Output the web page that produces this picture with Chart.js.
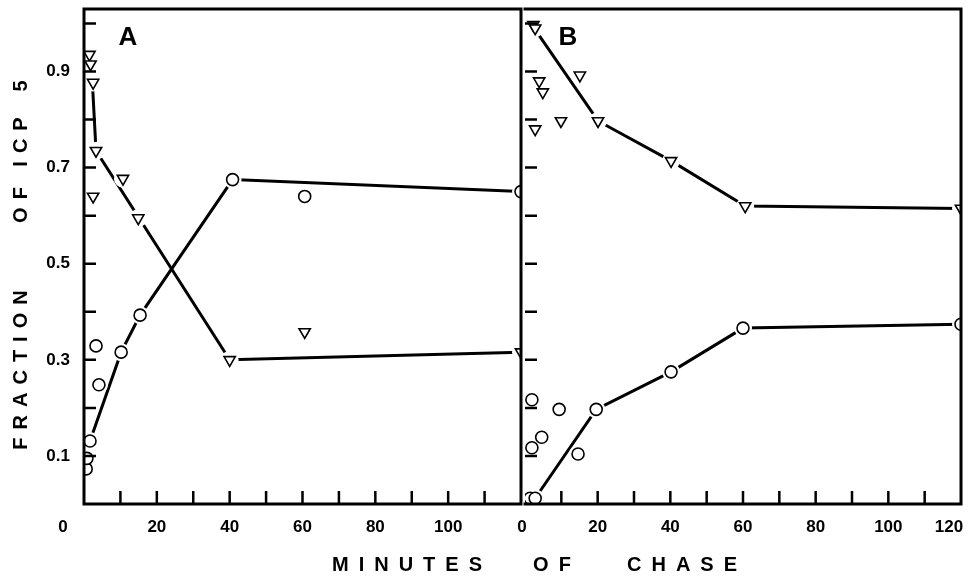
<!DOCTYPE html>
<html>
<head>
<meta charset="utf-8">
<script src="https://cdn.jsdelivr.net/npm/chart.js@4.4.1/dist/chart.umd.min.js"></script>
<style>
  html, body { margin: 0; padding: 0; background: #fff; }
  #fig { position: relative; width: 970px; height: 578px; overflow: hidden;
         font-family: 'Liberation Sans', Arial, sans-serif; font-weight: bold; color: #000; }
  canvas { position: absolute; top: 0; }
  #chart-a { left: 0; }
  #chart-b { left: 516px; }
  .lbl { position: absolute; white-space: nowrap; transform: translate(-50%, -50%); line-height: 1; }
  .xt { font-size: 20px; letter-spacing: 10px; padding-left: 10px; top: 564px; }
  .yt { font-size: 20px; letter-spacing: 8px; padding-left: 8px; left: 20px;
        transform: translate(-50%, -50%) rotate(-90deg); }
  .panel { font-size: 26px; top: 36px; }
</style>
</head>
<body>
<div id="fig">
  <canvas id="chart-a" width="530" height="578"></canvas>
  <canvas id="chart-b" width="454" height="578"></canvas>
  <div class="lbl panel" style="left:128px">A</div>
  <div class="lbl panel" style="left:568px">B</div>
  <div class="lbl xt" style="left:407px">MINUTES</div>
  <div class="lbl xt" style="left:552px">OF</div>
  <div class="lbl xt" style="left:682px">CHASE</div>
  <div class="lbl yt" style="top:370px">FRACTION</div>
  <div class="lbl yt" style="top:205px">OF</div>
  <div class="lbl yt" style="top:142px">ICP</div>
  <div class="lbl yt" style="top:86px">5</div>
</div>
<script>
// tick positions / labels
const xTickVals = [10, 20, 30, 40, 50, 60, 70, 80, 90, 100, 110];
const yTickVals = [0.1, 0.2, 0.3, 0.4, 0.5, 0.6, 0.7, 0.8, 0.9, 1.0];
const yLabelVals = [0.1, 0.3, 0.5, 0.7, 0.9];
const xLabelsA = [0, 20, 40, 60, 80, 100];
const xLabelsB = [0, 20, 40, 60, 80, 100, 120];

// panel A: triangles and circles, minutes vs fraction
const aTriX = [1.5, 1.8, 2.5, 3.3, 2.5, 10.7, 14.9, 40, 60.6, 120];
const aTriY = [0.935, 0.915, 0.877, 0.735, 0.64, 0.677, 0.595, 0.30, 0.358, 0.316];
const aCirX = [0.6, 0.8, 1.65, 3.3, 4.1, 10.2, 15.4, 40.8, 60.6, 120];
const aCirY = [0.073, 0.095, 0.131, 0.329, 0.248, 0.316, 0.393, 0.675, 0.64, 0.65];
const aTriFitX = [2.3, 3.3, 40, 120];
const aTriFitY = [0.877, 0.735, 0.30, 0.316];
const aCirFitX = [1.65, 10.2, 15.4, 40.8, 120];
const aCirFitY = [0.131, 0.316, 0.393, 0.675, 0.65];

// panel B
const bTriX = [2.3, 2.8, 3.9, 4.9, 15.1, 2.8, 9.9, 20.1, 40.2, 60.6, 120];
const bTriY = [0.997, 0.99, 0.88, 0.857, 0.892, 0.78, 0.797, 0.797, 0.714, 0.62, 0.615];
const bCirX = [1.9, 9.4, 19.6, 4.6, 1.9, 14.6, 1.4, 2.8, 40.2, 60, 120];
const bCirY = [0.217, 0.197, 0.197, 0.139, 0.117, 0.104, 0.012, 0.012, 0.275, 0.366, 0.374];
const bTriFitX = [2.5, 20.1, 40.2, 60.6, 120];
const bTriFitY = [0.99, 0.797, 0.714, 0.62, 0.615];
const bCirFitX = [2.8, 19.6, 40.2, 60, 120];
const bCirFitY = [0.012, 0.197, 0.275, 0.366, 0.374];

Chart.defaults.font.family = "'Liberation Sans', Arial, sans-serif";

function pts(xs, ys) {
  return xs.map((x, i) => ({ x, y: ys[i] }));
}

const lineStyle = { showLine: true, borderColor: '#000', borderWidth: 3, pointRadius: 0, order: 2 };
const haloStyle = { pointRadius: 9, pointBackgroundColor: '#fff', pointBorderWidth: 0, pointBorderColor: '#fff', order: 1 };
const cirStyle = { pointStyle: 'circle', pointRadius: 6, pointBorderWidth: 1.6,
                   pointBorderColor: '#000', pointBackgroundColor: '#fff', order: 0 };
const triStyle = { pointStyle: 'triangle', pointRotation: 180, pointRadius: 6.5, pointBorderWidth: 1.6,
                   pointBorderColor: '#000', pointBackgroundColor: '#fff', order: 0 };

function datasets(triX, triY, cirX, cirY, triFitX, triFitY, cirFitX, cirFitY) {
  return [
    { data: pts(triFitX, triFitY), ...lineStyle },
    { data: pts(cirFitX, cirFitY), ...lineStyle },
    { data: pts(triX, triY), ...haloStyle },
    { data: pts(cirX, cirY), ...haloStyle },
    { data: pts(triX, triY), ...triStyle },
    { data: pts(cirX, cirY), ...cirStyle }
  ];
}

// frame, inward ticks and x labels
const framePlugin = {
  id: 'frame',
  afterDatasetsDraw(chart, args, o) {
    const { ctx, chartArea: a } = chart;
    const x = chart.scales.x, y = chart.scales.y;
    ctx.save();
    ctx.strokeStyle = '#000';
    ctx.lineWidth = 3;
    ctx.lineCap = 'square';
    ctx.beginPath();
    ctx.moveTo(a.left, a.top);
    ctx.lineTo(a.right, a.top);
    ctx.moveTo(a.left, a.bottom);
    ctx.lineTo(a.right, a.bottom);
    ctx.moveTo(a.right, a.top);
    ctx.lineTo(a.right, a.bottom);
    if (o.leftBorder) {
      ctx.moveTo(a.left, a.top);
      ctx.lineTo(a.left, a.bottom);
    }
    ctx.stroke();
    ctx.lineWidth = 2.5;
    ctx.lineCap = 'butt';
    ctx.beginPath();
    yTickVals.forEach(v => {
      const py = y.getPixelForValue(v);
      ctx.moveTo(a.left, py);
      ctx.lineTo(a.left + 12, py);
    });
    xTickVals.forEach(v => {
      const px = x.getPixelForValue(v);
      ctx.moveTo(px, a.bottom);
      ctx.lineTo(px, a.bottom - 13);
    });
    ctx.stroke();
    ctx.fillStyle = '#000';
    ctx.font = "bold 17px 'Liberation Sans', Arial, sans-serif";
    ctx.textAlign = 'center';
    ctx.textBaseline = 'middle';
    o.labels.forEach(v => {
      ctx.fillText(String(v), x.getPixelForValue(v) + (o.nudge[v] || 0), a.bottom + 23);
    });
    ctx.restore();
  }
};

function makePanel(id, data, showY, padding, labels, nudge) {
  return new Chart(document.getElementById(id), {
    type: 'scatter',
    data: { datasets: data },
    options: {
      responsive: false,
      animation: false,
      events: [],
      layout: { padding },
      plugins: {
        legend: { display: false },
        tooltip: { enabled: false },
        frame: { labels, nudge, leftBorder: showY }
      },
      scales: {
        x: { type: 'linear', min: 0, max: 120, display: false },
        y: {
          type: 'linear', min: 0, max: 1.03, display: showY,
          grid: { display: false, drawTicks: false },
          border: { display: false },
          afterBuildTicks: s => { s.ticks = yLabelVals.map(v => ({ value: v })); },
          afterFit: s => { s.width = showY ? 84 : 0; s.paddingTop = 0; s.paddingBottom = 0; },
          ticks: {
            padding: 14, color: '#000',
            font: { size: 17, weight: 'bold' },
            callback: v => v.toFixed(1)
          }
        }
      }
    },
    plugins: [framePlugin]
  });
}

makePanel('chart-a', datasets(aTriX, aTriY, aCirX, aCirY, aTriFitX, aTriFitY, aCirFitX, aCirFitY),
  true, { top: 5, right: 7, bottom: 74, left: 0 }, xLabelsA, { 0: -21 });
makePanel('chart-b', datasets(bTriX, bTriY, bCirX, bCirY, bTriFitX, bTriFitY, bCirFitX, bCirFitY),
  false, { top: 5, right: 9, bottom: 74, left: 7 }, xLabelsB, { 0: -3, 120: -12 });
</script>
</body>
</html>
